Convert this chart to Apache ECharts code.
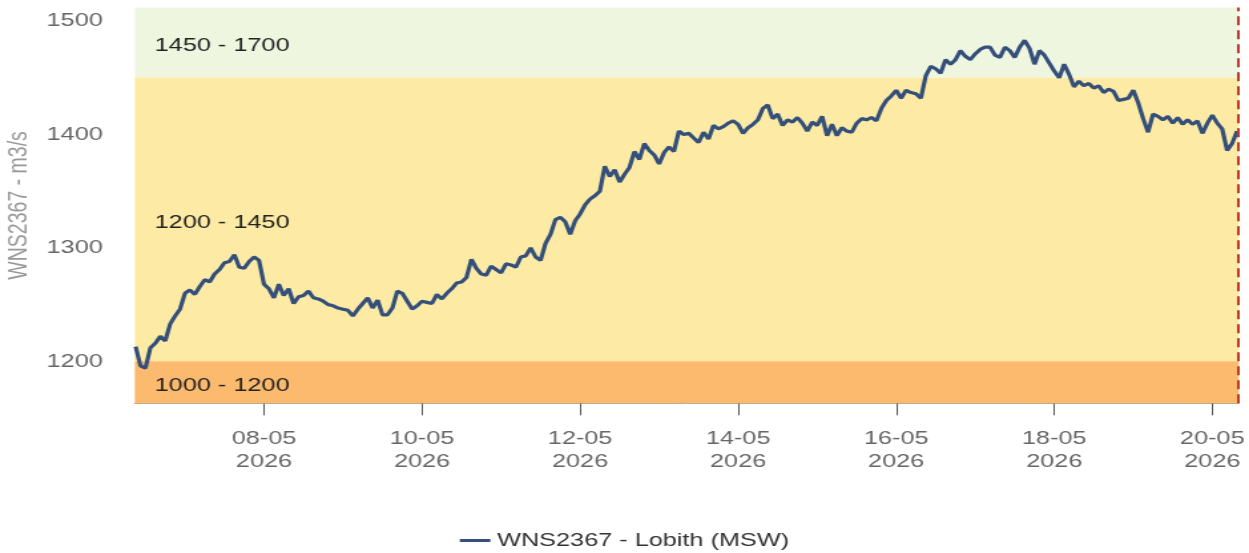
<!DOCTYPE html>
<html lang="nl">
<head>
    <meta charset="UTF-8">
    <title>WNS2367 - Lobith (MSW)</title>
    <script src="https://cdn.jsdelivr.net/npm/echarts@6/dist/echarts.min.js"></script>
    <style>
        body { margin: 0; background: #fff; }
        /* the reference is stretched horizontally, so the chart is drawn narrower and scaled */
        #main { width: 939px; height: 553px; transform: scaleX(1.33014); transform-origin: 0 0; }
    </style>
</head>
<body>
<div id="main"></div>
<script>
    var seriesName = 'WNS2367 - Lobith (MSW)';
    var startTime = '2026-05-06T09:00:00Z';
    var stepHours = 1.5;
    var flow = [
        1213,1196,1194,1212,1216,1222,1218,1233,1240,1246,
        1260,1263,1259,1266,1272,1270,1277,1281,1287,1288,
        1294,1283,1282,1288,1292,1289,1268,1264,1256,1268,
        1258,1264,1251,1257,1258,1262,1256,1255,1253,1250,
        1249,1247,1246,1245,1240,1246,1251,1256,1247,1254,
        1241,1241,1247,1262,1260,1253,1246,1249,1253,1252,
        1251,1259,1255,1260,1264,1269,1270,1274,1290,1282,
        1277,1276,1284,1281,1278,1286,1285,1283,1292,1293,
        1300,1292,1289,1304,1312,1325,1327,1323,1312,1324,
        1330,1338,1343,1346,1350,1372,1363,1369,1358,1365,
        1371,1385,1378,1392,1386,1382,1374,1384,1389,1385,
        1403,1400,1401,1397,1393,1402,1396,1408,1405,1407,
        1410,1412,1409,1401,1406,1409,1413,1423,1426,1414,
        1418,1408,1413,1411,1415,1410,1403,1411,1408,1416,
        1399,1409,1399,1406,1403,1402,1410,1414,1413,1415,
        1412,1423,1430,1434,1439,1432,1439,1437,1436,1432,
        1452,1460,1458,1454,1466,1462,1466,1474,1469,1466,
        1471,1475,1477,1477,1470,1468,1477,1474,1468,1477,
        1483,1476,1462,1474,1470,1463,1456,1450,1462,1453,
        1442,1447,1443,1445,1441,1443,1437,1440,1438,1430,
        1431,1432,1439,1428,1414,1402,1418,1416,1413,1416,
        1410,1415,1409,1413,1409,1412,1401,1410,1417,1410,
        1405,1386,1392,1403
    ];
    var tickDates = ['2026-05-08', '2026-05-10', '2026-05-12', '2026-05-14', '2026-05-16', '2026-05-18', '2026-05-20'];
    var yTicks = [1200, 1300, 1400, 1500];
    var bands = [
        { from: 1450, to: 1700, label: '1450 - 1700', color: '#eef6e0' },
        { from: 1200, to: 1450, label: '1200 - 1450', color: '#fdeaa4' },
        { from: 1000, to: 1200, label: '1000 - 1200', color: '#fcba6e' }
    ];
    var axisStart = '2026-05-06T08:45:00Z';
    var axisEnd = '2026-05-20T08:00:00Z';
    var nowTime = '2026-05-20T08:00:00Z';

    function pad(n) { return n < 10 ? '0' + n : '' + n; }

    var t0 = new Date(startTime).getTime();
    var points = flow.map(function (v, i) {
        return [t0 + i * stepHours * 3600000, v];
    });
    var tickValues = tickDates.map(function (d) { return new Date(d).getTime(); });

    var areas = bands.map(function (b) {
        return [
            { yAxis: b.from, name: b.label, itemStyle: { color: b.color } },
            { yAxis: b.to }
        ];
    });

    var myChart = echarts.init(document.getElementById('main'));
    var option = {
        animation: false,
        textStyle: { fontFamily: 'Liberation Sans, Arial, sans-serif' },
        grid: { left: 101.3, right: 7.8, top: 7.5, bottom: 149.7, outerBoundsMode: 'none', containLabel: false },
        legend: {
            data: [seriesName],
            left: 'center',
            top: 526,
            icon: 'rect',
            itemWidth: 23,
            itemHeight: 3,
            textStyle: { color: '#333', fontSize: 19 }
        },
        xAxis: {
            type: 'value',
            min: new Date(axisStart).getTime(),
            max: new Date(axisEnd).getTime(),
            splitLine: { show: false },
            axisLine: { show: true, lineStyle: { color: '#b0a58f', width: 1 } },
            axisTick: {
                show: true,
                length: 12,
                customValues: tickValues,
                lineStyle: { color: '#555', width: 1 }
            },
            axisLabel: {
                customValues: tickValues,
                margin: 24,
                color: '#666',
                fontSize: 19,
                lineHeight: 23,
                formatter: function (v) {
                    var d = new Date(v);
                    return pad(d.getUTCDate()) + '-' + pad(d.getUTCMonth() + 1) + '\n' + d.getUTCFullYear();
                }
            }
        },
        yAxis: {
            type: 'value',
            min: 1163,
            max: 1512,
            name: 'WNS2367 - m3/s',
            nameLocation: 'middle',
            nameGap: 67,
            nameTextStyle: { color: '#999', fontSize: 19.5 },
            splitLine: { show: false },
            axisLine: { show: false },
            axisTick: { show: false },
            axisLabel: {
                customValues: yTicks,
                margin: 24,
                color: '#666',
                fontSize: 19,
                formatter: function (v) { return String(v); }
            }
        },
        series: [
            {
                name: seriesName,
                type: 'line',
                symbol: 'none',
                data: points,
                lineStyle: { color: '#34507a', width: 3.2 },
                itemStyle: { color: '#34507a' },
                markArea: {
                    silent: true,
                    label: {
                        show: true,
                        position: 'insideLeft',
                        distance: 15,
                        offset: [0, 3],
                        color: '#222',
                        fontSize: 19
                    },
                    data: areas
                },
                markLine: {
                    silent: true,
                    symbol: 'none',
                    label: { show: false },
                    lineStyle: { color: '#c0392b', type: [9, 5], width: 2 },
                    data: [{ xAxis: new Date(nowTime).getTime() }]
                }
            }
        ]
    };
    myChart.setOption(option);
</script>
</body>
</html>
